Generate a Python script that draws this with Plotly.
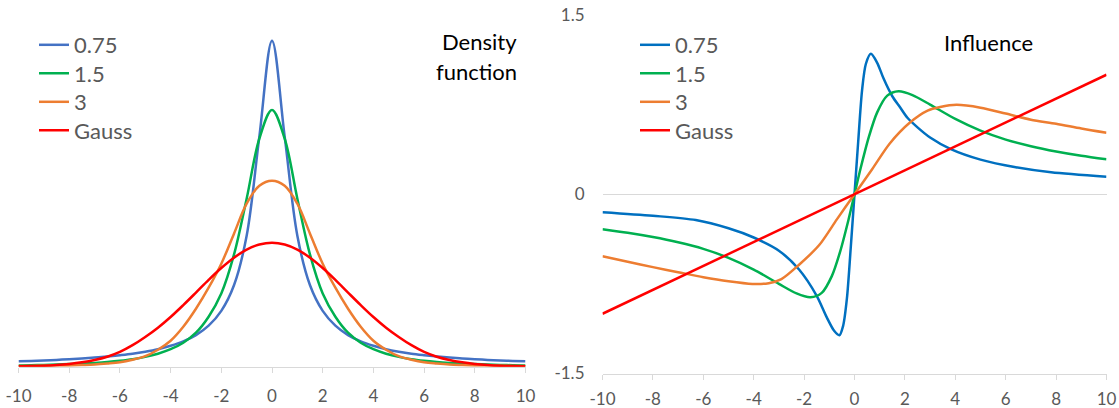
import plotly.graph_objects as go

W, H = 1119, 408

# ---------------- Density function (left) ----------------
dens_x = [-10, -9.5, -9, -8.5, -8, -7.5, -7, -6.5, -6, -5.5, -5, -4.5, -4, -3.5, -3, -2.5,
          -2, -1.5, -1, -0.5, 0, 0.5, 1, 1.5, 2, 2.5, 3, 3.5, 4, 4.5, 5, 5.5, 6, 6.5, 7,
          7.5, 8, 8.5, 9, 9.5, 10]
dens_075 = [0.0054, 0.0058, 0.0063, 0.0068, 0.0075, 0.0082, 0.0091, 0.0102, 0.0115, 0.0130,
            0.0150, 0.0175, 0.0209, 0.0253, 0.0316, 0.0410, 0.0558, 0.0814, 0.1310, 0.2300,
            0.3260,
            0.2300, 0.1310, 0.0814, 0.0558, 0.0410, 0.0316, 0.0253, 0.0209, 0.0175, 0.0150,
            0.0130, 0.0115, 0.0102, 0.0091, 0.0082, 0.0075, 0.0068, 0.0063, 0.0058, 0.0054]
dens_15 = [0.0013, 0.0015, 0.0018, 0.0022, 0.0026, 0.0031, 0.0038, 0.0047, 0.0059, 0.0075,
           0.0098, 0.0130, 0.0175, 0.0240, 0.0340, 0.0500, 0.0732, 0.1120, 0.1680, 0.2280,
           0.2567,
           0.2280, 0.1680, 0.1120, 0.0732, 0.0500, 0.0340, 0.0240, 0.0175, 0.0130, 0.0098,
           0.0075, 0.0059, 0.0047, 0.0038, 0.0031, 0.0026, 0.0022, 0.0018, 0.0015, 0.0013]
dens_3 = [0.0007, 0.0008, 0.0009, 0.0011, 0.0013, 0.0017, 0.0022, 0.0032, 0.0045, 0.0070,
          0.0105, 0.0170, 0.0260, 0.0400, 0.0580, 0.0790, 0.1030, 0.1330, 0.1630, 0.1810,
          0.1860,
          0.1810, 0.1630, 0.1330, 0.1030, 0.0790, 0.0580, 0.0400, 0.0260, 0.0170, 0.0105,
          0.0070, 0.0045, 0.0032, 0.0022, 0.0017, 0.0013, 0.0011, 0.0009, 0.0008, 0.0007]
dens_gauss = [0.0004, 0.0006, 0.0010, 0.0017, 0.0028, 0.0044, 0.0067, 0.0100, 0.0148, 0.0215,
              0.0297, 0.0390, 0.0497, 0.0616, 0.0741, 0.0868, 0.0987, 0.1090, 0.1171, 0.1222,
              0.1240,
              0.1222, 0.1171, 0.1090, 0.0987, 0.0868, 0.0741, 0.0616, 0.0497, 0.0390, 0.0297,
              0.0215, 0.0148, 0.0100, 0.0067, 0.0044, 0.0028, 0.0017, 0.0010, 0.0006, 0.0004]

# ---------------- Influence (right) ----------------
inf075_x = [-10, -8, -6.3, -5, -4, -3, -2.2, -1.5, -1.1, -0.8, -0.6, -0.45, -0.3, -0.15, 0,
            0.15, 0.3, 0.45, 0.65, 0.9, 1.15, 1.5, 1.8, 2.1, 2.5, 3.0, 3.8, 5.0, 6.4, 7.8, 10]
inf075_y = [-0.150, -0.180, -0.216, -0.285, -0.362, -0.472, -0.630, -0.850, -1.030, -1.145,
            -1.180, -1.100, -0.870, -0.450, 0.0,
            0.450, 0.870, 1.090, 1.175, 1.100, 0.970, 0.820, 0.730, 0.640, 0.560, 0.475,
            0.380, 0.290, 0.226, 0.184, 0.147]
inf15_x = [-10, -9, -8, -7, -6, -5, -4, -3, -2.3, -1.75, -1.3, -0.9, -0.57, -0.24, 0,
           0.24, 0.57, 0.9, 1.3, 1.75, 2.3, 3, 4, 5, 6, 7, 8, 9, 10]
inf15_y = [-0.292, -0.322, -0.358, -0.402, -0.457, -0.532, -0.630, -0.750, -0.830, -0.862,
           -0.825, -0.685, -0.480, -0.215, 0.0,
           0.215, 0.480, 0.685, 0.825, 0.862, 0.830, 0.750, 0.630, 0.532, 0.457, 0.402,
           0.358, 0.322, 0.292]
inf3_x = [-10, -9, -8, -7, -6, -5, -4.05, -3.4, -2.9, -2.2, -1.4, -0.7, 0,
          0.7, 1.4, 2.2, 2.9, 3.4, 4.05, 5, 6, 7, 8, 9, 10]
inf3_y = [-0.519, -0.565, -0.610, -0.652, -0.694, -0.728, -0.750, -0.744, -0.710, -0.590,
          -0.425, -0.210, 0.0,
          0.210, 0.425, 0.600, 0.700, 0.730, 0.748, 0.724, 0.675, 0.624, 0.590, 0.550, 0.514]
infg_x = [-10, -5, 0, 5, 10]
infg_y = [-1.0, -0.5, 0.0, 0.5, 1.0]

series_names = ["0.75", "1.5", "3", "Gauss"]
left_colors = ["#4472C4", "#00B050", "#ED7D31", "#FF0000"]
right_colors = ["#0070C0", "#00B050", "#ED7D31", "#FF0000"]
x_ticks = [-10, -8, -6, -4, -2, 0, 2, 4, 6, 8, 10]
y2_ticks = [-1.5, 0, 1.5]
y2_labels = ["-1.5", "0", "1.5"]

FONT = "Lato"
GRAY = "#595959"
LINEW = 2.5
LEG_ROWS = [45, 73.5, 102, 130.5]

def px_x(p):
    return p / W

def px_y(p):
    return 1 - p / H

fig = go.Figure()

for i, (name, col, ys) in enumerate(zip(series_names, left_colors,
                                        [dens_075, dens_15, dens_3, dens_gauss])):
    fig.add_trace(go.Scatter(x=dens_x, y=ys, mode="lines", name=name,
                             line=dict(color=col, width=LINEW, shape="spline", smoothing=1.0),
                             xaxis="x", yaxis="y", legend="legend" if i == 0 else f"legend{i + 1}"))

right_data = [(inf075_x, inf075_y), (inf15_x, inf15_y), (inf3_x, inf3_y), (infg_x, infg_y)]
for i, (name, col, (xs, ys)) in enumerate(zip(series_names, right_colors, right_data)):
    shape = "linear" if name == "Gauss" else "spline"
    fig.add_trace(go.Scatter(x=xs, y=ys, mode="lines", name=name,
                             line=dict(color=col, width=LINEW, shape=shape, smoothing=0.8),
                             xaxis="x2", yaxis="y2", legend=f"legend{i + 5}"))

axis_common = dict(tickfont=dict(family=FONT, size=17, color=GRAY),
                   showgrid=False, zeroline=False, automargin=False)

legend_layout = {}
for i, row in enumerate(LEG_ROWS):
    for j, left in enumerate([34, 635]):
        idx = i + 1 + 4 * j
        key = "legend" if idx == 1 else f"legend{idx}"
        legend_layout[key] = dict(x=px_x(left), y=px_y(row), xanchor="left", yanchor="middle",
                                  font=dict(family=FONT, size=22, color=GRAY),
                                  bgcolor="rgba(0,0,0,0)", borderwidth=0, itemwidth=30)

fig.update_layout(
    template="none",
    width=W, height=H,
    margin=dict(l=0, r=0, t=0, b=0, pad=0, autoexpand=False),
    paper_bgcolor="white", plot_bgcolor="white",
    font=dict(family=FONT, color=GRAY),
    showlegend=True,
    xaxis=dict(domain=[px_x(18.5), px_x(525.5)], range=[-10, 10],
               tickvals=x_ticks, ticktext=[str(v) for v in x_ticks],
               showline=True, linecolor="#D9D9D9", linewidth=1.3,
               ticks="outside", ticklen=5, tickcolor="#D9D9D9", tickwidth=1.3,
               ticklabelstandoff=9, anchor="y", **axis_common),
    yaxis=dict(domain=[px_y(366.7), px_y(16.7)], range=[0, 0.35], visible=False,
               anchor="x", automargin=False),
    xaxis2=dict(domain=[px_x(602.5), px_x(1106.5)], range=[-10, 10],
                tickvals=x_ticks, ticktext=[str(v) for v in x_ticks],
                showline=True, linecolor="#D9D9D9", linewidth=1.3,
                ticks="outside", ticklen=5, tickcolor="#D9D9D9", tickwidth=1.3,
                ticklabelstandoff=5, anchor="y2", **axis_common),
    yaxis2=dict(domain=[px_y(373.5), px_y(15)], range=[-1.5, 1.5],
                tickvals=y2_ticks, ticktext=y2_labels,
                tickfont=dict(family=FONT, size=17, color=GRAY),
                showgrid=True, gridcolor="#D9D9D9", gridwidth=1.3,
                zeroline=False, showline=False, ticks="", automargin=False,
                ticklabelstandoff=17, anchor="x2"),
    annotations=[
        dict(text="Density", x=px_x(519), y=px_y(42), xref="paper", yref="paper",
             xanchor="right", yanchor="middle", showarrow=False,
             font=dict(family=FONT, size=22, color="black")),
        dict(text="function", x=px_x(519), y=px_y(71), xref="paper", yref="paper",
             xanchor="right", yanchor="middle", showarrow=False,
             font=dict(family=FONT, size=22, color="black")),
        dict(text="Influence", x=px_x(988), y=px_y(43), xref="paper", yref="paper",
             xanchor="center", yanchor="middle", showarrow=False,
             font=dict(family=FONT, size=22, color="black")),
    ],
    **legend_layout,
)

fig.write_html("out.html")
